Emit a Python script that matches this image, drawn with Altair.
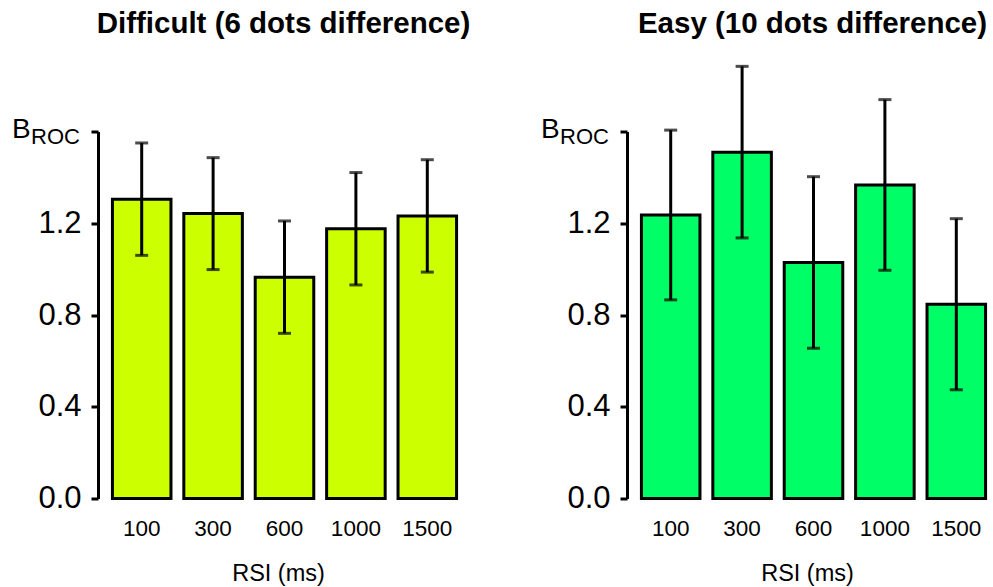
import altair as alt
import pandas as pd

# RSI conditions (ms)
rsi = ["100", "300", "600", "1000", "1500"]

# Difficult condition (6 dots difference): mean B_ROC and error half-width
difficult_mean = [1.305, 1.242, 0.965, 1.176, 1.232]
difficult_err = [0.245, 0.244, 0.245, 0.245, 0.245]

# Easy condition (10 dots difference)
easy_mean = [1.236, 1.510, 1.029, 1.367, 0.847]
easy_err = [0.370, 0.374, 0.374, 0.372, 0.373]

y_ticks = [0.0, 0.4, 0.8, 1.2, 1.6]

FONT = "Liberation Sans"
W, H = 357, 367


def panel(title, means, errs, color):
    df = pd.DataFrame({
        "rsi": rsi,
        "mean": means,
        "lo": [m - e for m, e in zip(means, errs)],
        "hi": [m + e for m, e in zip(means, errs)],
    })
    x = alt.X(
        "rsi:N",
        sort=rsi,
        scale=alt.Scale(paddingInner=0.18, paddingOuter=0.09),
        axis=alt.Axis(
            title="RSI (ms)", domain=False, ticks=False, tickSize=0, grid=False,
            labelPadding=19, labelFontSize=22.5, labelAngle=0,
            titleFontSize=23.5, titleFontWeight="normal",
            titleX=172, titleY=82, titleBaseline="alphabetic",
        ),
    )
    y_scale = alt.Scale(domain=[0, 1.6], nice=False)
    base = alt.Chart(df)
    bars = base.mark_bar(fill=color, stroke="black", strokeWidth=3).encode(
        x=x,
        y=alt.Y(
            "mean:Q", scale=y_scale,
            axis=alt.Axis(
                title=None, values=y_ticks, grid=False, offset=8,
                domainWidth=3, domainColor="black", tickWidth=3, tickSize=7,
                tickColor="black", labelPadding=10, labelFontSize=31,
                labelExpr="datum.value > 1.5 ? '' : format(datum.value, '.1f')",
            ),
        ),
    )
    stems = base.mark_rule(color="black", strokeWidth=3).encode(
        x=alt.X("rsi:N", sort=rsi),
        y=alt.Y("lo:Q", scale=y_scale),
        y2="hi:Q",
    )
    caps_lo = base.mark_tick(color="black", thickness=3, size=13).encode(
        x=alt.X("rsi:N", sort=rsi), y=alt.Y("lo:Q", scale=y_scale)
    )
    caps_hi = base.mark_tick(color="black", thickness=3, size=13).encode(
        x=alt.X("rsi:N", sort=rsi), y=alt.Y("hi:Q", scale=y_scale)
    )
    label_df = pd.DataFrame({"t": [title]})
    head = alt.Chart(label_df).mark_text(
        font=FONT, fontSize=29.5, fontWeight="bold", align="center",
        baseline="alphabetic", color="black",
    ).encode(x=alt.value(W / 2 - 1), y=alt.value(-99), text="t:N")
    b_main = alt.Chart(pd.DataFrame({"t": ["B"]})).mark_text(
        font=FONT, fontSize=28, align="left", baseline="alphabetic", color="black",
    ).encode(x=alt.value(-94), y=alt.value(6.5), text="t:N")
    b_sub = alt.Chart(pd.DataFrame({"t": ["ROC"]})).mark_text(
        font=FONT, fontSize=22, align="left", baseline="alphabetic", color="black",
    ).encode(x=alt.value(-75), y=alt.value(12.5), text="t:N")
    return alt.layer(bars, stems, caps_lo, caps_hi, head, b_main, b_sub).properties(
        width=W, height=H
    )


left = panel("Difficult (6 dots difference)", difficult_mean, difficult_err, "#CCFF00")
right = panel("Easy (10 dots difference)", easy_mean, easy_err, "#00FF66")

chart = (
    alt.hconcat(left, right, spacing=172, bounds="flush")
    .properties(padding={"left": 12, "top": 8.5, "right": 0, "bottom": 0})
    .configure(background="white")
    .configure_view(strokeWidth=0, stroke="transparent")
    .configure_axis(labelFont=FONT, titleFont=FONT, labelColor="black", titleColor="black")
)

chart.save("out.html", embed_options={"renderer": "svg", "actions": False})
